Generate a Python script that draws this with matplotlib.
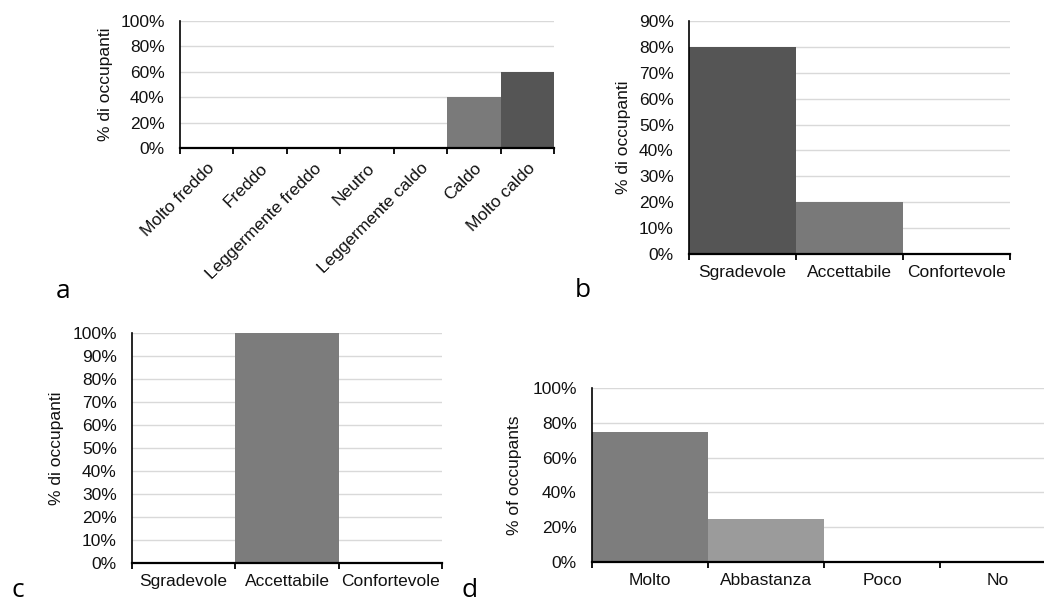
import numpy as np
import matplotlib
matplotlib.use('Agg')
import matplotlib.pyplot as plt
from matplotlib.ticker import PercentFormatter

plt.rcParams['font.family'] = ['Liberation Sans', 'DejaVu Sans']

# dati
cat_a = ['Molto freddo', 'Freddo', 'Leggermente freddo', 'Neutro',
         'Leggermente caldo', 'Caldo', 'Molto caldo']
val_a = [0.0, 0.0, 0.0, 0.0, 0.0, 0.40, 0.60]

cat_b = ['Sgradevole', 'Accettabile', 'Confortevole']
val_b = [0.80, 0.20, 0.0]

cat_c = ['Sgradevole', 'Accettabile', 'Confortevole']
val_c = [0.0, 1.0, 0.0]

cat_d = ['Molto', 'Abbastanza', 'Poco', 'No']
val_d = [0.75, 0.25, 0.0, 0.0]

ylab_a = '% di occupanti'
ylab_b = '% di occupanti'
ylab_c = '% di occupanti'
ylab_d = '% of occupants'

# colori delle barre
col_a = ['#7f7f7f'] * 5 + ['#7a7a7a', '#555555']
col_b = ['#555555', '#797979', '#797979']
col_c = ['#7c7c7c'] * 3
col_d = ['#7d7d7d', '#9b9b9b', '#9b9b9b', '#9b9b9b']

W, H = 1044, 604
fig = plt.figure(figsize=(W / 100, H / 100), dpi=100)


def rect(x0, x1, y0, y1):
    # pixel -> frazione della figura
    return [x0 / W, 1 - y1 / H, (x1 - x0) / W, (y1 - y0) / H]


def pannello(ax, cats, vals, colori, ymax, passo, ylabel, xlab, ruota=False):
    n = len(cats)
    ax.bar(range(n), vals, width=1.0, color=colori, zorder=2)
    ax.set_xlim(-0.5, n - 0.5)
    ax.set_ylim(0, ymax)
    ax.set_yticks(np.arange(0, ymax + 1e-9, passo))
    ax.yaxis.set_major_formatter(PercentFormatter(1.0, decimals=0))
    ax.yaxis.grid(True, color='#d9d9d9', lw=1.0, zorder=0)
    ax.set_axisbelow(True)

    ax.set_xticks(np.arange(n + 1) - 0.5)
    ax.set_xticklabels([])
    ax.set_xticks(range(n), minor=True)
    if ruota:
        ax.set_xticklabels(cats, minor=True, rotation=45, ha='right',
                           rotation_mode='anchor')
        ax.tick_params(axis='x', which='minor', length=0, pad=9)
    else:
        ax.set_xticklabels(cats, minor=True)
        ax.tick_params(axis='x', which='minor', length=0, pad=8)
    ax.tick_params(axis='x', which='major', length=4, width=1.3,
                   direction='out', color='black')
    ax.tick_params(axis='both', which='both', labelsize=12.5, labelcolor='#111111')
    ax.tick_params(axis='y', length=0, pad=11)

    for s in ['top', 'right']:
        ax.spines[s].set_visible(False)
    ax.spines['left'].set_linewidth(1.2)
    ax.spines['bottom'].set_linewidth(1.6)

    ax.set_ylabel(ylabel, fontsize=12.5, color='#111111')
    ax.yaxis.set_label_coords(xlab, 0.5)


ax_a = fig.add_axes(rect(180, 554, 21, 148))
pannello(ax_a, cat_a, val_a, col_a, 1.0, 0.2, ylab_a, -0.18, ruota=True)

ax_b = fig.add_axes(rect(689, 1010, 21, 254))
pannello(ax_b, cat_b, val_b, col_b, 0.9, 0.1, ylab_b, -0.18)

ax_c = fig.add_axes(rect(132, 442, 333, 563))
pannello(ax_c, cat_c, val_c, col_c, 1.0, 0.1, ylab_c, -0.22)

ax_d = fig.add_axes(rect(592, 1056, 388, 562))
pannello(ax_d, cat_d, val_d, col_d, 1.0, 0.2, ylab_d, -0.15)

# lettere dei pannelli
for lettera, px, py, va in [('a', 63, 298, 'baseline'), ('b', 583, 297, 'baseline'),
                            ('c', 18, 603, 'bottom'), ('d', 470, 603, 'bottom')]:
    fig.text(px / W, 1 - py / H, lettera, fontsize=19, family='Open Sans',
             ha='center', va=va)

fig.savefig('out.png', dpi=100)
plt.close(fig)
